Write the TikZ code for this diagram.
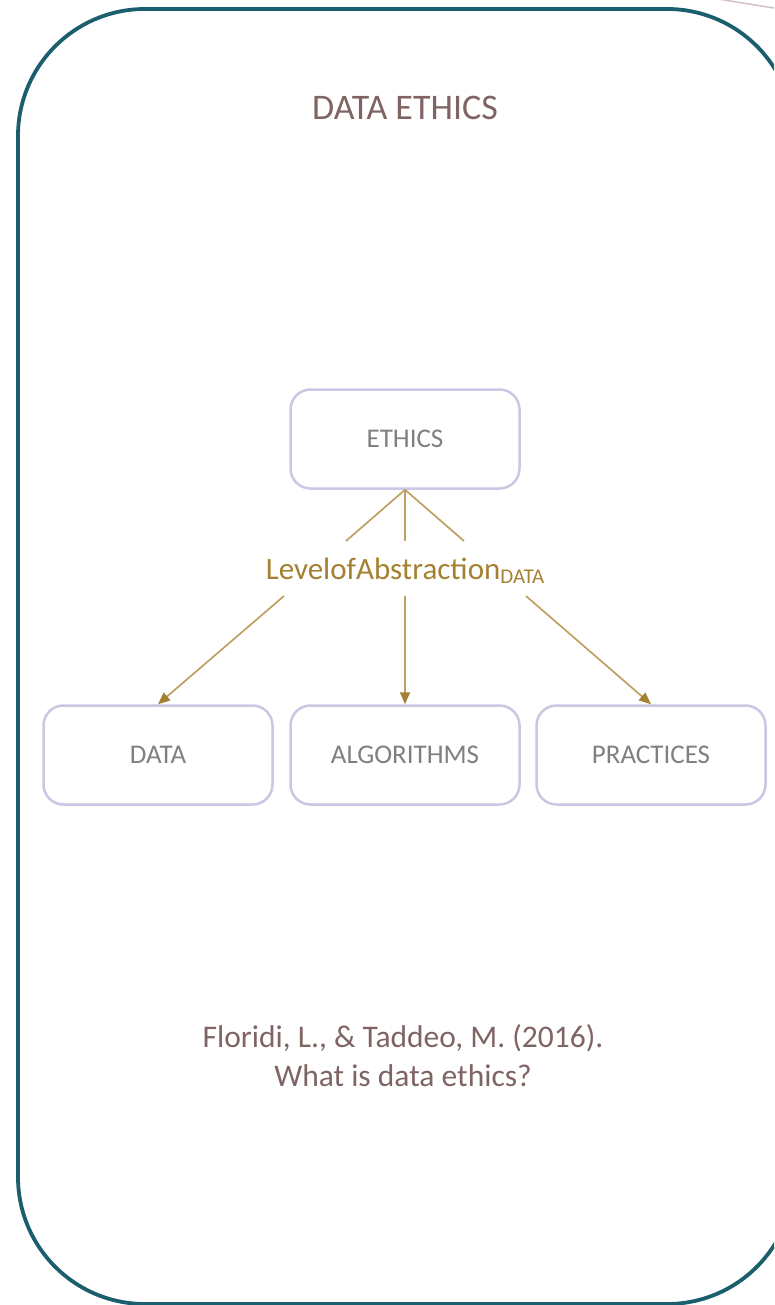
\documentclass[tikz,border=0pt]{standalone}
\usepackage{fontspec}
\setmainfont{Carlito}
\usetikzlibrary{arrows.meta}
\definecolor{frame}{RGB}{27,94,110}
\definecolor{titlec}{RGB}{128,100,100}
\definecolor{boxline}{RGB}{204,198,228}
\definecolor{boxtext}{RGB}{128,128,128}
\definecolor{goldline}{RGB}{190,160,95}
\definecolor{goldtext}{RGB}{165,128,48}
\definecolor{faint}{RGB}{212,192,196}
\tikzset{
  conceptbox/.style={draw=boxline, line width=2.5pt, rounded corners=20pt, fill=white,
    minimum width=229pt, minimum height=99pt, text=boxtext, font=\fontsize{27}{32}\selectfont},
  linkline/.style={draw=goldline, line width=1.7pt},
  linkarrow/.style={draw=goldline, line width=1.7pt, -{Triangle[length=12pt,width=10pt,fill=goldtext,color=goldtext]}},
  titletext/.style={text=titlec, align=center}
}
\begin{document}
\begin{tikzpicture}[x=1pt,y=-1pt]
\useasboundingbox (0,0) rectangle (774,1305);
\clip (0,0) rectangle (774,1305);
\draw[faint, line width=1.5pt] (718,-1) -- (780,9);
\draw[frame, line width=3.8pt, rounded corners=127pt] (18,9) rectangle (794,1304);
\node[titletext, font=\fontsize{36}{42}\selectfont] (title) at (405,108) {DATA ETHICS};
\node[conceptbox] (ethics) at (405,439) {ETHICS};
\node[conceptbox] (data) at (158,755) {DATA};
\node[conceptbox] (algo) at (405,755) {ALGORITHMS};
\node[conceptbox] (prac) at (651,755) {PRACTICES};
\node[text=goldtext, font=\fontsize{31}{36}\selectfont, inner sep=0pt] (loa) at (405,571)
  {LevelofAbstraction\raisebox{-0.3ex}{\fontsize{21}{24}\selectfont DATA}};
\coordinate (u1) at (346,541);
\coordinate (u2) at (405,541);
\coordinate (u3) at (464,541);
\coordinate (d1) at (284,596);
\coordinate (d2) at (405,596);
\coordinate (d3) at (526,596);
\draw[linkline] (ethics.south) -- (u1);
\draw[linkline] (ethics.south) -- (u2);
\draw[linkline] (ethics.south) -- (u3);
\draw[linkarrow] (d1) -- (data.north);
\draw[linkarrow] (d2) -- (algo.north);
\draw[linkarrow] (d3) -- (prac.north);
\node[titletext, font=\fontsize{31.5}{39}\selectfont] (cite) at (403,1056) {Floridi, L., \& Taddeo, M. (2016).\\What is data ethics?};
\end{tikzpicture}
\end{document}
